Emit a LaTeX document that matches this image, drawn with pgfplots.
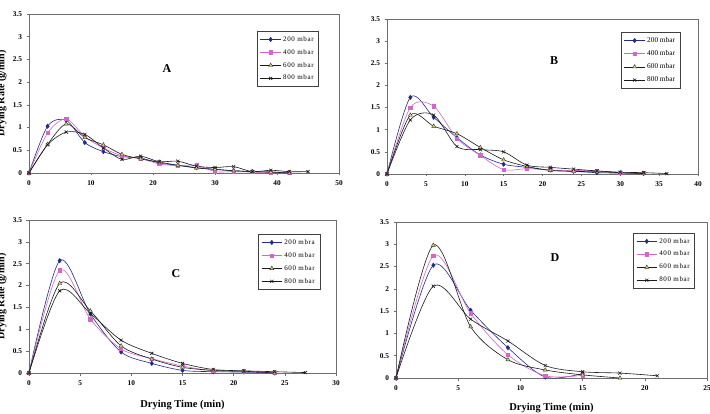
\documentclass[border=0pt]{standalone}
\usepackage{fontspec}
\setmainfont{Liberation Serif}
\usepackage{pgfplots}
\pgfplotsset{compat=1.18}

\definecolor{c200}{HTML}{1F2A8C}
\definecolor{c400}{HTML}{D565C8}
\definecolor{c600}{HTML}{1A1A1A}
\definecolor{tri}{HTML}{D8D86A}
\definecolor{frame}{HTML}{6E6E6E}

\newcommand\legfont{\fontsize{7.3}{8}\selectfont}
\newcommand\legfontsp{\fontsize{7}{8}\selectfont\addfontfeatures{LetterSpace=9}}

\tikzset{panel/.style={font=\bfseries\fontsize{12}{13}\selectfont}}

\pgfplotsset{
  dry/.style={
    scale only axis, anchor=south west,
    xmin=0, ymin=0, ymax=3.5,
    ytick={0,0.5,1,1.5,2,2.5,3,3.5},
    tick align=outside, tick pos=left,
    major tick length=2.5pt,
    axis line style={frame, line width=0.6pt},
    tick style={frame, line width=0.5pt},
    ticklabel style={font=\bfseries\fontsize{7.3}{8}\selectfont},
    /pgf/number format/assume math mode=true,
    y tick label style={xshift=-1pt},
    x tick label style={yshift=-2pt},
    legend cell align=left,
    legend style={font=\legfont, draw=black!75,
      line width=0.5pt, anchor=north west, inner xsep=3pt, inner ysep=3pt,
      row sep=2.6pt},
    legend image code/.code={
      \draw[mark repeat=2,mark phase=2,#1]
        plot coordinates {(0cm,0cm) (0.36cm,0cm) (0.72cm,0cm)};},
    every axis plot/.append style={smooth, tension=0.5, line width=0.6pt},
    clip=false,
  },
  s200/.style={color=c200, mark=diamond*, mark size=2.1pt},
  s400/.style={color=c400, mark=square*, mark size=1.6pt},
  s600/.style={color=c600, mark=triangle*, mark size=2.3pt,
    mark options={fill=tri, draw=black!80, line width=0.4pt}},
  s800/.style={color=c600, mark=x, mark size=2.2pt},
  ylab/.style={ylabel style={font=\bfseries\fontsize{10}{12}\selectfont,
    at={(axis description cs:#1,0.5)}, anchor=center, rotate=0}},
  xlab/.style={xlabel style={font=\bfseries\fontsize{10.5}{12}\selectfont,
    at={(axis description cs:0.5,#1)}, anchor=center}},
}

\begin{document}
\begin{tikzpicture}
\useasboundingbox (0pt,0pt) rectangle (710pt,413pt);
\clip (0pt,0pt) rectangle (710pt,413pt);

% ---------------- Panel A ----------------
\begin{axis}[dry, at={(29pt,240pt)}, width=310pt, height=159pt,
  xmax=50, xtick={0,10,...,50},
  ylab=-0.087, ylabel={Drying Rate (g/min)},
  legend style={font=\legfontsp, at={(axis description cs:0.735,0.893)}}]
\addplot[s200] coordinates {(0,0) (3,1.03) (6,1.16) (9,0.67) (12,0.47) (15,0.36) (18,0.33) (21,0.22) (24,0.17) (27,0.12) (30,0.08) (33,0.05) (36,0.03) (39,0.02) (42,0.01)};
\addplot[s400] coordinates {(0,0) (3,0.88) (6,1.19) (9,0.80) (12,0.55) (15,0.38) (18,0.32) (21,0.20) (24,0.16) (27,0.17) (30,0.03) (33,0.03) (36,0.02) (39,0.01) (42,0.01)};
\addplot[s600] coordinates {(0,0) (3,0.63) (6,1.08) (9,0.78) (12,0.62) (15,0.41) (18,0.31) (21,0.24) (24,0.17) (27,0.11) (30,0.08) (33,0.05) (36,0.03) (39,0.02) (42,0.00)};
\addplot[s800] coordinates {(0,0) (3,0.62) (6,0.90) (9,0.85) (12,0.55) (15,0.30) (18,0.37) (21,0.25) (24,0.26) (27,0.15) (30,0.12) (33,0.14) (36,0.03) (39,0.06) (42,0.03) (45,0.03)};
\legend{200 mbar, 400 mbar, 600 mbar, 800 mbar}
\node[panel] at (axis description cs:0.445,0.654) {A};
\end{axis}

% ---------------- Panel B ----------------
\begin{axis}[dry, at={(387pt,239pt)}, width=311pt, height=155pt,
  xmax=40, xtick={0,5,...,40},
  legend style={at={(axis description cs:0.752,0.916)}}]
\addplot[s200] coordinates {(0,0) (3,1.73) (6,1.28) (9,0.82) (12,0.43) (15,0.22) (18,0.15) (21,0.09) (24,0.06) (27,0.03) (30,0.02) (33,0.01)};
\addplot[s400] coordinates {(0,0) (3,1.50) (6,1.53) (9,0.80) (12,0.42) (15,0.10) (18,0.12) (21,0.09) (24,0.08) (27,0.07) (30,0.03) (33,0.02)};
\addplot[s600] coordinates {(0,0) (3,1.33) (6,1.08) (9,0.91) (12,0.60) (15,0.32) (18,0.17) (21,0.08) (24,0.06) (27,0.05) (30,0.03) (33,0.01)};
\addplot[s800] coordinates {(0,0) (3,1.22) (6,1.33) (9,0.62) (12,0.55) (15,0.50) (18,0.20) (21,0.15) (24,0.11) (27,0.07) (30,0.04) (33,0.03) (36,0.01)};
\legend{200 mbar, 400 mbar, 600 mbar, 800 mbar}
\node[panel] at (axis description cs:0.537,0.729) {B};
\end{axis}

% ---------------- Panel C ----------------
\begin{axis}[dry, at={(29pt,40pt)}, width=307pt, height=153pt,
  xmax=30, xtick={0,5,...,30},
  ylab=-0.088, ylabel={Drying Rate (g/min)},
  xlab=-0.21, xlabel={Drying Time (min)},
  legend style={font=\legfontsp, at={(axis description cs:0.746,0.908)}}]
\addplot[s200] coordinates {(0,0) (3,2.57) (6,1.35) (9,0.48) (12,0.22) (15,0.06) (18,0.03) (21,0.02) (24,0.00)};
\addplot[s400] coordinates {(0,0) (3,2.35) (6,1.23) (9,0.55) (12,0.33) (15,0.16) (18,0.05) (21,0.03) (24,0.01)};
\addplot[s600] coordinates {(0,0) (3,2.05) (6,1.42) (9,0.62) (12,0.32) (15,0.13) (18,0.06) (21,0.04) (24,0.00)};
\addplot[s800] coordinates {(0,0) (3,1.88) (6,1.36) (9,0.75) (12,0.45) (15,0.22) (18,0.08) (21,0.05) (24,0.03) (27,0.01)};
\legend{200 mbra, 400 mbar, 600 mbar, 800 mbar}
\node[panel] at (axis description cs:0.479,0.647) {C};
\end{axis}

% ---------------- Panel D ----------------
\begin{axis}[dry, at={(396pt,35pt)}, width=311pt, height=156pt,
  xmax=25, xtick={0,5,...,25},
  xlab=-0.192, xlabel={Drying Time (min)},
  legend style={font=\legfontsp, at={(axis description cs:0.762,0.93)}}]
\addplot[s200] coordinates {(0,0) (3,2.53) (6,1.52) (9,0.68) (12,0.02) (15,0.10)};
\addplot[s400] coordinates {(0,0) (3,2.74) (6,1.45) (9,0.52) (12,0.05) (15,0.06)};
\addplot[s600] coordinates {(0,0) (3,2.98) (6,1.15) (9,0.41) (12,0.18) (15,0.07) (18,0.00)};
\addplot[s800] coordinates {(0,0) (3,2.06) (6,1.32) (9,0.83) (12,0.28) (15,0.14) (18,0.11) (21,0.05)};
\legend{200 mbar, 400 mbar, 600 mbar, 800 mbar}
\node[panel] at (axis description cs:0.511,0.769) {D};
\end{axis}
\end{tikzpicture}
\end{document}
